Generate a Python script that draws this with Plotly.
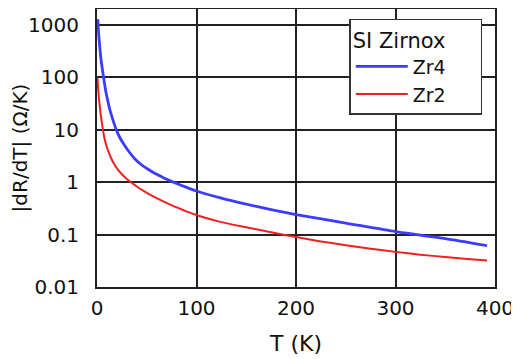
import plotly.graph_objects as go

# Zr4 (blue)
t_zr4 = [0.8, 1.5, 2.5, 4.2, 6.6, 9, 11, 12.6, 16, 19.4, 23, 27.8, 32, 37.9, 44, 51.3, 58, 65, 72, 80, 90, 100, 125, 150, 175, 200, 250, 300, 350, 392]
dr_zr4 = [1290, 760, 435, 208, 100, 52, 34.5, 25.5, 15.5, 10, 7.05, 5.0, 3.85, 2.8, 2.2, 1.77, 1.48, 1.27, 1.096, 0.945, 0.796, 0.68, 0.496, 0.381, 0.299, 0.24, 0.166, 0.114, 0.084, 0.0617]

# Zr2 (red)
t_zr2 = [0.5, 1.2, 2.5, 3.7, 4.9, 5.9, 7.6, 9, 11, 14, 17.7, 21, 26, 30, 34.5, 40, 48, 56, 65, 73, 82, 92, 102, 125, 150, 175, 200, 225, 250, 275, 300, 325, 350, 372, 392]
dr_zr2 = [100, 59, 31.3, 19.7, 13.6, 10.2, 6.74, 5.29, 4.07, 2.93, 2.15, 1.74, 1.36, 1.156, 0.987, 0.828, 0.659, 0.541, 0.444, 0.378, 0.32, 0.268, 0.229, 0.173, 0.138, 0.1106, 0.0896, 0.0742, 0.0628, 0.0539, 0.0468, 0.0414, 0.0373, 0.0343, 0.0321]

y_ticks = [0.01, 0.1, 1, 10, 100, 1000]
y_tick_text = ["0.01", "0.1", "1", "10", "100", "1000"]
x_ticks = [0, 100, 200, 300, 400]

fig = go.Figure()
fig.add_trace(go.Scatter(x=t_zr4, y=dr_zr4, mode="lines", name="Zr4",
                         line=dict(color="#3c3cff", width=2.8, shape="spline", smoothing=0.6)))
fig.add_trace(go.Scatter(x=t_zr2, y=dr_zr2, mode="lines", name="Zr2",
                         line=dict(color="#f02020", width=2, shape="spline", smoothing=0.6)))

font_family = "DejaVu Sans, Liberation Sans, Arial, sans-serif"
fig.update_layout(
    width=511, height=351,
    margin=dict(l=89, r=24, t=1, b=72, autoexpand=False),
    paper_bgcolor="white", plot_bgcolor="white",
    font=dict(family=font_family, color="#111111", size=20),
    showlegend=True,
    legend=dict(
        title=dict(text="SI Zirnox\u00a0\u00a0\u00a0\u00a0\u00a0", font=dict(size=21, family=font_family), side="top"),
        font=dict(size=19, family=font_family),
        x=0.968, y=0.965, xanchor="right", yanchor="top",
        bgcolor="white", bordercolor="#333333", borderwidth=1.5,
        tracegroupgap=0, itemwidth=52,
    ),
    xaxis=dict(
        range=[0, 400], tickvals=x_ticks, showgrid=True, gridcolor="#222222", gridwidth=1.5,
        showline=True, linecolor="#222222", linewidth=2, mirror=True, zeroline=False,
        ticks="", ticklabelstandoff=2, tickfont=dict(size=20), automargin=False,
        title=dict(text="T (K)", font=dict(size=22), standoff=17),
    ),
    yaxis=dict(
        type="log", range=[-2, 3.305], tickvals=y_ticks, ticktext=y_tick_text,
        showgrid=True, gridcolor="#222222", gridwidth=1.5,
        showline=True, linecolor="#222222", linewidth=2, mirror=True, zeroline=False,
        ticks="", ticklabelstandoff=12, tickfont=dict(size=20), automargin=False,
        title=dict(text="|dR/dT| (Ω/K)", font=dict(size=20), standoff=8),
    ),
)

fig.write_html("out.html")
